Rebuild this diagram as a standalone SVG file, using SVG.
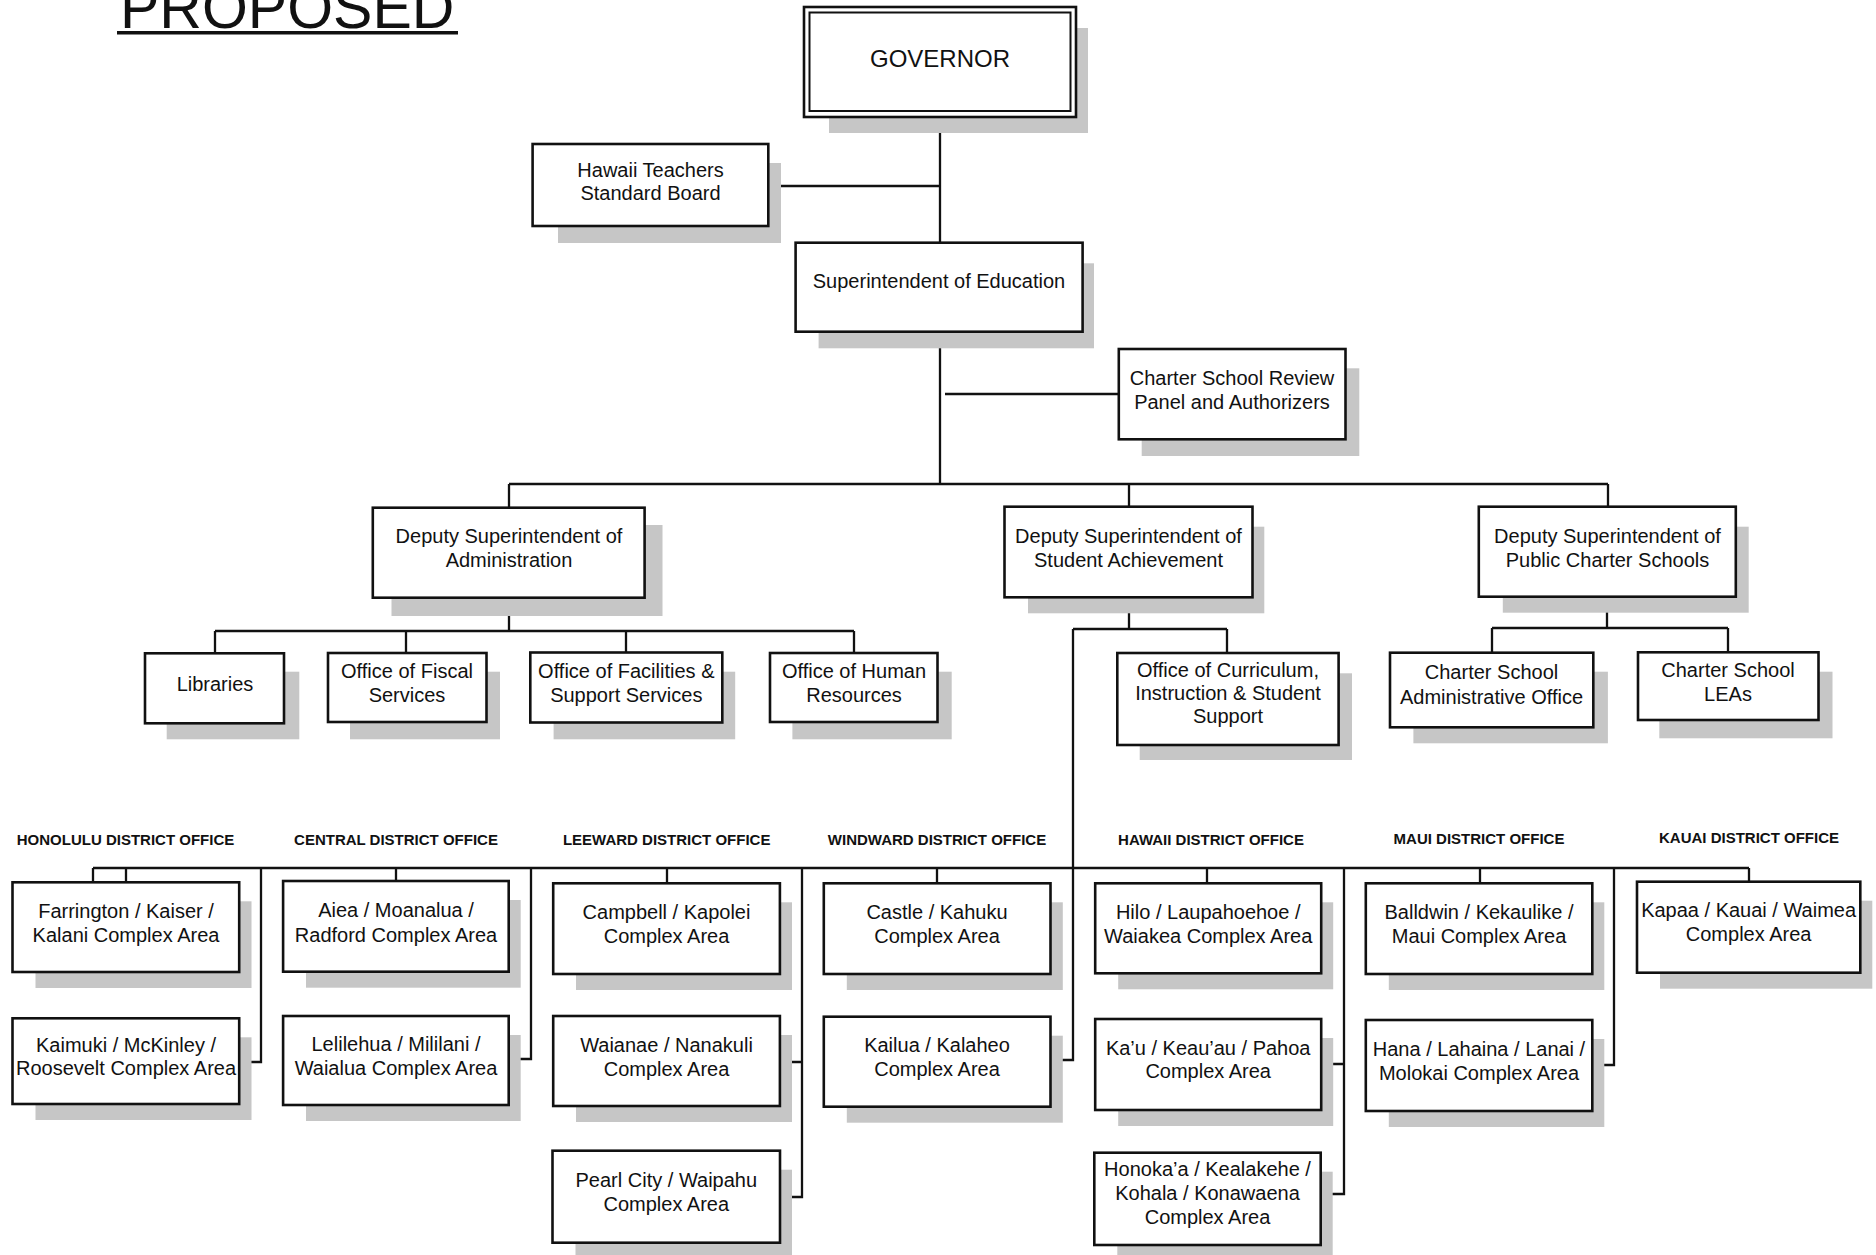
<svg xmlns="http://www.w3.org/2000/svg" width="1876" height="1255" viewBox="0 0 1876 1255">
<style>
.bg{fill:#fff}
.box{fill:#fff;stroke:#111;stroke-width:2.6}
.sh{fill:#c6c6c6}
.c{fill:none;stroke:#111;stroke-width:2.3}
.t{font-family:"Liberation Sans",Arial,sans-serif;font-size:20px;text-anchor:middle;fill:#111}
.h{font-family:"Liberation Sans",Arial,sans-serif;font-size:15px;font-weight:bold;text-anchor:middle;fill:#111}
.ttl{font-family:"Liberation Sans",Arial,sans-serif;font-size:59px;fill:#111}
</style>
<rect class="bg" x="0" y="0" width="1876" height="1255"/>
<g id="title">
<text class="ttl" x="120" y="28">PROPOSED</text>
<rect x="117" y="31" width="341" height="3.5" fill="#111"/>
</g>
<g id="connectors">
<path class="c" d="M940 117V243M768 186H940M940 332V484M945 394H1119M509 484H1608M509 484V508M1129 484V507M1608 484V507"/>
<path class="c" d="M509 598V631M215 631H854M215 631V653M406 631V653M626 631V652M854 631V653"/>
<path class="c" d="M1129 597V629M1073 629H1227M1227 629V653M1073 629V1060H1050"/>
<path class="c" d="M1607 597V628M1492 628H1728M1492 628V653M1728 628V652"/>
<path class="c" d="M93 868H1749M93 868V882M126 868V882M261 868V1062H239M396 868V881M531 868V1059H509M667 868V883M802 868V1197H780M802 1062H780M937 868V883M1207 868V883M1344 868V1194H1321M1344 1064H1321M1480 868V883M1614 868V1065H1592M1749 868V882"/>
</g>
<g id="governor">
<rect class="sh" x="829" y="28" width="259" height="105"/>
<rect class="box" x="804" y="7" width="272" height="110" stroke-width="3"/>
<rect fill="none" stroke="#111" stroke-width="2" x="809.5" y="12.5" width="261" height="98.5"/>
<text class="t" x="940" y="66.5" style="font-size:24px">GOVERNOR</text>
</g>
<g id="htsb">
<rect class="sh" x="558" y="163" width="223" height="80"/>
<rect class="box" x="532.6" y="144" width="235.7" height="82"/>
<text class="t" x="650.5" y="176.5">Hawaii Teachers</text>
<text class="t" x="650.5" y="200">Standard Board</text>
</g>
<g id="superintendent">
<rect class="sh" x="818.6" y="263.3" width="275.4" height="85"/>
<rect class="box" x="795.6" y="242.7" width="287" height="89"/>
<text class="t" x="939" y="288.3">Superintendent of Education</text>
</g>
<g id="charter-review">
<rect class="sh" x="1141.7" y="368.3" width="217.6" height="87.7"/>
<rect class="box" x="1118.8" y="349" width="226.7" height="90.3"/>
<text class="t" x="1232" y="385">Charter School Review</text>
<text class="t" x="1232" y="409.3">Panel and Authorizers</text>
</g>
<g id="dep-admin">
<rect class="sh" x="391.5" y="525" width="271" height="91"/>
<rect class="box" x="372.8" y="507.7" width="271.8" height="90"/>
<text class="t" x="509" y="543.3">Deputy Superintendent of</text>
<text class="t" x="509" y="566.7">Administration</text>
</g>
<g id="dep-sa">
<rect class="sh" x="1028" y="526.7" width="236.3" height="86.6"/>
<rect class="box" x="1004.5" y="506.7" width="248" height="90.6"/>
<text class="t" x="1128.5" y="543.3">Deputy Superintendent of</text>
<text class="t" x="1128.5" y="566.7">Student Achievement</text>
</g>
<g id="dep-pcs">
<rect class="sh" x="1502.8" y="526.7" width="245.9" height="86"/>
<rect class="box" x="1478.8" y="506.7" width="257" height="90"/>
<text class="t" x="1607.5" y="543.3">Deputy Superintendent of</text>
<text class="t" x="1607.5" y="566.7">Public Charter Schools</text>
</g>
<g id="libraries">
<rect class="sh" x="166.7" y="671.7" width="132.6" height="67.6"/>
<rect class="box" x="145" y="653.3" width="139" height="70"/>
<text class="t" x="215" y="690.7">Libraries</text>
</g>
<g id="fiscal">
<rect class="sh" x="350" y="671.7" width="150" height="67.6"/>
<rect class="box" x="328" y="653" width="158.5" height="69"/>
<text class="t" x="407" y="678.3">Office of Fiscal</text>
<text class="t" x="407" y="701.7">Services</text>
</g>
<g id="facilities">
<rect class="sh" x="553.6" y="671.7" width="181.6" height="67.6"/>
<rect class="box" x="530.3" y="652.5" width="192" height="70"/>
<text class="t" x="626.3" y="677.5">Office of Facilities &amp;</text>
<text class="t" x="626.3" y="701.7">Support Services</text>
</g>
<g id="hr">
<rect class="sh" x="792.4" y="671.7" width="159.3" height="67.6"/>
<rect class="box" x="770" y="653" width="167.5" height="69"/>
<text class="t" x="854" y="677.5">Office of Human</text>
<text class="t" x="854" y="701.7">Resources</text>
</g>
<g id="curriculum">
<rect class="sh" x="1139.7" y="673.3" width="212.3" height="86.7"/>
<rect class="box" x="1117.3" y="653" width="221.3" height="92"/>
<text class="t" x="1228" y="676.7">Office of Curriculum,</text>
<text class="t" x="1228" y="700">Instruction &amp; Student</text>
<text class="t" x="1228" y="723.3">Support</text>
</g>
<g id="cs-admin">
<rect class="sh" x="1413.4" y="671.7" width="194.5" height="71.6"/>
<rect class="box" x="1390" y="652.7" width="203.3" height="74.6"/>
<text class="t" x="1491.5" y="679.3">Charter School</text>
<text class="t" x="1491.5" y="704">Administrative Office</text>
</g>
<g id="cs-leas">
<rect class="sh" x="1659.3" y="671.7" width="173.2" height="66.6"/>
<rect class="box" x="1638" y="652.3" width="180.5" height="67.7"/>
<text class="t" x="1728" y="676.7">Charter School</text>
<text class="t" x="1728" y="700.7">LEAs</text>
</g>
<g id="headings">
<text class="h" x="125.5" y="844.5">HONOLULU DISTRICT OFFICE</text>
<text class="h" x="396" y="844.5">CENTRAL DISTRICT OFFICE</text>
<text class="h" x="666.7" y="844.5">LEEWARD DISTRICT OFFICE</text>
<text class="h" x="937" y="844.5">WINDWARD DISTRICT OFFICE</text>
<text class="h" x="1211" y="844.5">HAWAII DISTRICT OFFICE</text>
<text class="h" x="1479" y="844">MAUI DISTRICT OFFICE</text>
<text class="h" x="1749" y="843.3">KAUAI DISTRICT OFFICE</text>
</g>
<g id="farrington">
<rect class="sh" x="35.5" y="901.3" width="216" height="86.7"/>
<rect class="box" x="12.5" y="882.3" width="226.7" height="89.7"/>
<text class="t" x="126" y="918.3">Farrington / Kaiser /</text>
<text class="t" x="126" y="941.7">Kalani Complex Area</text>
</g>
<g id="kaimuki">
<rect class="sh" x="35.5" y="1037.3" width="216" height="82.7"/>
<rect class="box" x="12.5" y="1018.3" width="226.7" height="85.7"/>
<text class="t" x="126" y="1051.7">Kaimuki / McKinley /</text>
<text class="t" x="126" y="1075">Roosevelt Complex Area</text>
</g>
<g id="aiea">
<rect class="sh" x="306" y="900" width="214.7" height="87.7"/>
<rect class="box" x="283.1" y="881" width="225.6" height="90.7"/>
<text class="t" x="396" y="917.3">Aiea / Moanalua /</text>
<text class="t" x="396" y="941.7">Radford Complex Area</text>
</g>
<g id="lelilehua">
<rect class="sh" x="306" y="1035" width="214.7" height="86"/>
<rect class="box" x="283.1" y="1016" width="225.6" height="89"/>
<text class="t" x="396" y="1050.7">Lelilehua / Mililani /</text>
<text class="t" x="396" y="1075">Waialua Complex Area</text>
</g>
<g id="campbell">
<rect class="sh" x="576" y="902.3" width="216" height="87.7"/>
<rect class="box" x="553.2" y="883.3" width="226.7" height="90.7"/>
<text class="t" x="666.5" y="919">Campbell / Kapolei</text>
<text class="t" x="666.5" y="943.3">Complex Area</text>
</g>
<g id="waianae">
<rect class="sh" x="576" y="1035" width="216" height="87"/>
<rect class="box" x="553.2" y="1016" width="226.7" height="90"/>
<text class="t" x="666.5" y="1051.7">Waianae / Nanakuli</text>
<text class="t" x="666.5" y="1076">Complex Area</text>
</g>
<g id="pearl-city">
<rect class="sh" x="575.5" y="1169.7" width="216.5" height="89"/>
<rect class="box" x="552.5" y="1150.7" width="227.5" height="92"/>
<text class="t" x="666.3" y="1187.3">Pearl City / Waipahu</text>
<text class="t" x="666.3" y="1210.7">Complex Area</text>
</g>
<g id="castle">
<rect class="sh" x="846.8" y="902.3" width="216" height="87.7"/>
<rect class="box" x="823.8" y="883.3" width="226.7" height="90.7"/>
<text class="t" x="937" y="919">Castle / Kahuku</text>
<text class="t" x="937" y="943.3">Complex Area</text>
</g>
<g id="kailua">
<rect class="sh" x="846.8" y="1035.7" width="216" height="87"/>
<rect class="box" x="823.8" y="1016.7" width="226.7" height="90"/>
<text class="t" x="937" y="1051.7">Kailua / Kalaheo</text>
<text class="t" x="937" y="1076">Complex Area</text>
</g>
<g id="hilo">
<rect class="sh" x="1118.2" y="902.3" width="215" height="87"/>
<rect class="box" x="1095.2" y="883.3" width="226" height="90"/>
<text class="t" x="1208.2" y="919">Hilo / Laupahoehoe /</text>
<text class="t" x="1208.2" y="942.7">Waiakea Complex Area</text>
</g>
<g id="kau">
<rect class="sh" x="1118.2" y="1038" width="215" height="88"/>
<rect class="box" x="1095.2" y="1019" width="226" height="91"/>
<text class="t" x="1208.2" y="1055">Ka’u / Keau’au / Pahoa</text>
<text class="t" x="1208.2" y="1078.3">Complex Area</text>
</g>
<g id="honokaa">
<rect class="sh" x="1117.3" y="1171.7" width="215.4" height="89.3"/>
<rect class="box" x="1094.3" y="1152.7" width="226.4" height="92.3"/>
<text class="t" x="1207.5" y="1176">Honoka’a / Kealakehe /</text>
<text class="t" x="1207.5" y="1200">Kohala / Konawaena</text>
<text class="t" x="1207.5" y="1224">Complex Area</text>
</g>
<g id="baldwin">
<rect class="sh" x="1388.8" y="902.3" width="215.5" height="87.7"/>
<rect class="box" x="1365.8" y="883.3" width="226.5" height="90.7"/>
<text class="t" x="1479" y="919">Balldwin / Kekaulike /</text>
<text class="t" x="1479" y="943.3">Maui Complex Area</text>
</g>
<g id="hana">
<rect class="sh" x="1388.8" y="1039" width="215.5" height="88"/>
<rect class="box" x="1365.8" y="1020" width="226.5" height="91"/>
<text class="t" x="1479" y="1055.7">Hana / Lahaina / Lanai /</text>
<text class="t" x="1479" y="1080">Molokai Complex Area</text>
</g>
<g id="kapaa">
<rect class="sh" x="1660" y="900.7" width="212.3" height="88"/>
<rect class="box" x="1637" y="881.7" width="223.3" height="91"/>
<text class="t" x="1748.6" y="916.7">Kapaa / Kauai / Waimea</text>
<text class="t" x="1748.6" y="940.7">Complex Area</text>
</g>
</svg>
